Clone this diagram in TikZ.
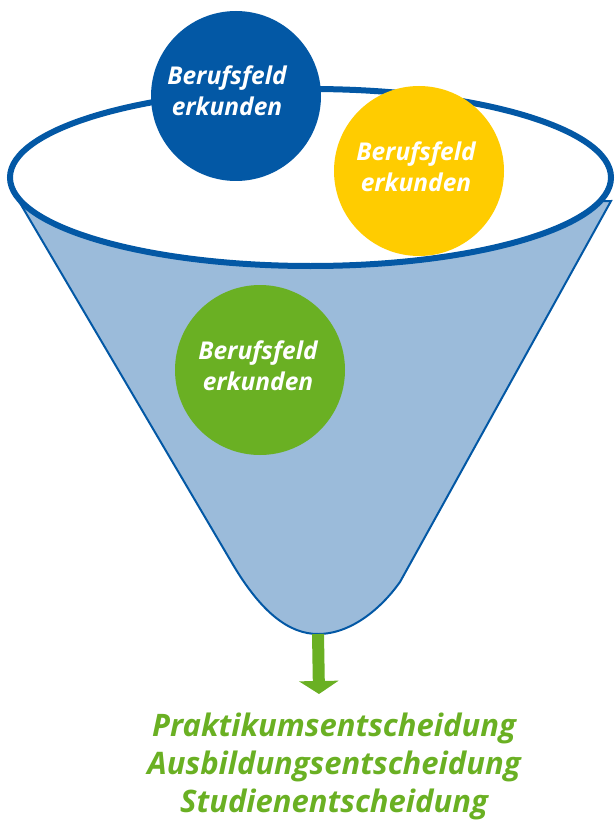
\documentclass[tikz,border=0pt]{standalone}
\usepackage{fontspec}
\setmainfont{Open Sans}
\usetikzlibrary{arrows.meta}
\definecolor{dblue}{HTML}{0358A5}
\definecolor{lblue}{HTML}{9BBBDA}
\definecolor{fyellow}{HTML}{FFCC00}
\definecolor{fgreen}{HTML}{6AB023}
\tikzset{
  ball/.style={circle, minimum size=170pt, inner sep=0pt},
  balltext/.style={text=white, align=center, font=\fontsize{24.5}{31}\selectfont\bfseries\itshape},
  outtext/.style={text=fgreen, anchor=base, font=\fontsize{31}{38}\selectfont\bfseries\itshape},
}
\begin{document}
\begin{tikzpicture}[x=1pt,y=-1pt]
\useasboundingbox (0,0) rectangle (614,821);
% funnel body
\coordinate (lt) at (20,203);
\coordinate (rt) at (611,201);
\coordinate (bottom) at (318,634);
\filldraw[fill=lblue, draw=dblue, line width=2pt]
  (lt) -- (232,563) .. controls (262,614) and (290,634) .. (bottom)
  .. controls (350,634) and (380,610) .. (400,582) -- (rt) -- cycle;
% rim
\filldraw[fill=white, draw=dblue, line width=6pt] (310.5,177.5) ellipse [x radius=300.5pt, y radius=88.5pt];
% balls
\node[ball, fill=dblue] (b1) at (236,96) {};
\node[balltext] (t1) at (227,91) {Berufsfeld\\erkunden};
\node[ball, fill=fyellow] (b2) at (419,171) {};
\node[balltext] (t2) at (416,167) {Berufsfeld\\erkunden};
\node[ball, fill=fgreen] (b3) at (260,370) {};
\node[balltext] (t3) at (258,366) {Berufsfeld\\erkunden};
% arrow
\coordinate (tip) at (319,694);
\draw[fgreen, line width=12pt, -{Triangle[width=39pt,length=13pt]}] (bottom) -- (tip);
% outcome text
\node[outtext] (o1) at (334,736) {Praktikumsentscheidung};
\node[outtext] (o2) at (334,774) {Ausbildungsentscheidung};
\node[outtext] (o3) at (334,812) {Studienentscheidung};
\end{tikzpicture}
\end{document}
